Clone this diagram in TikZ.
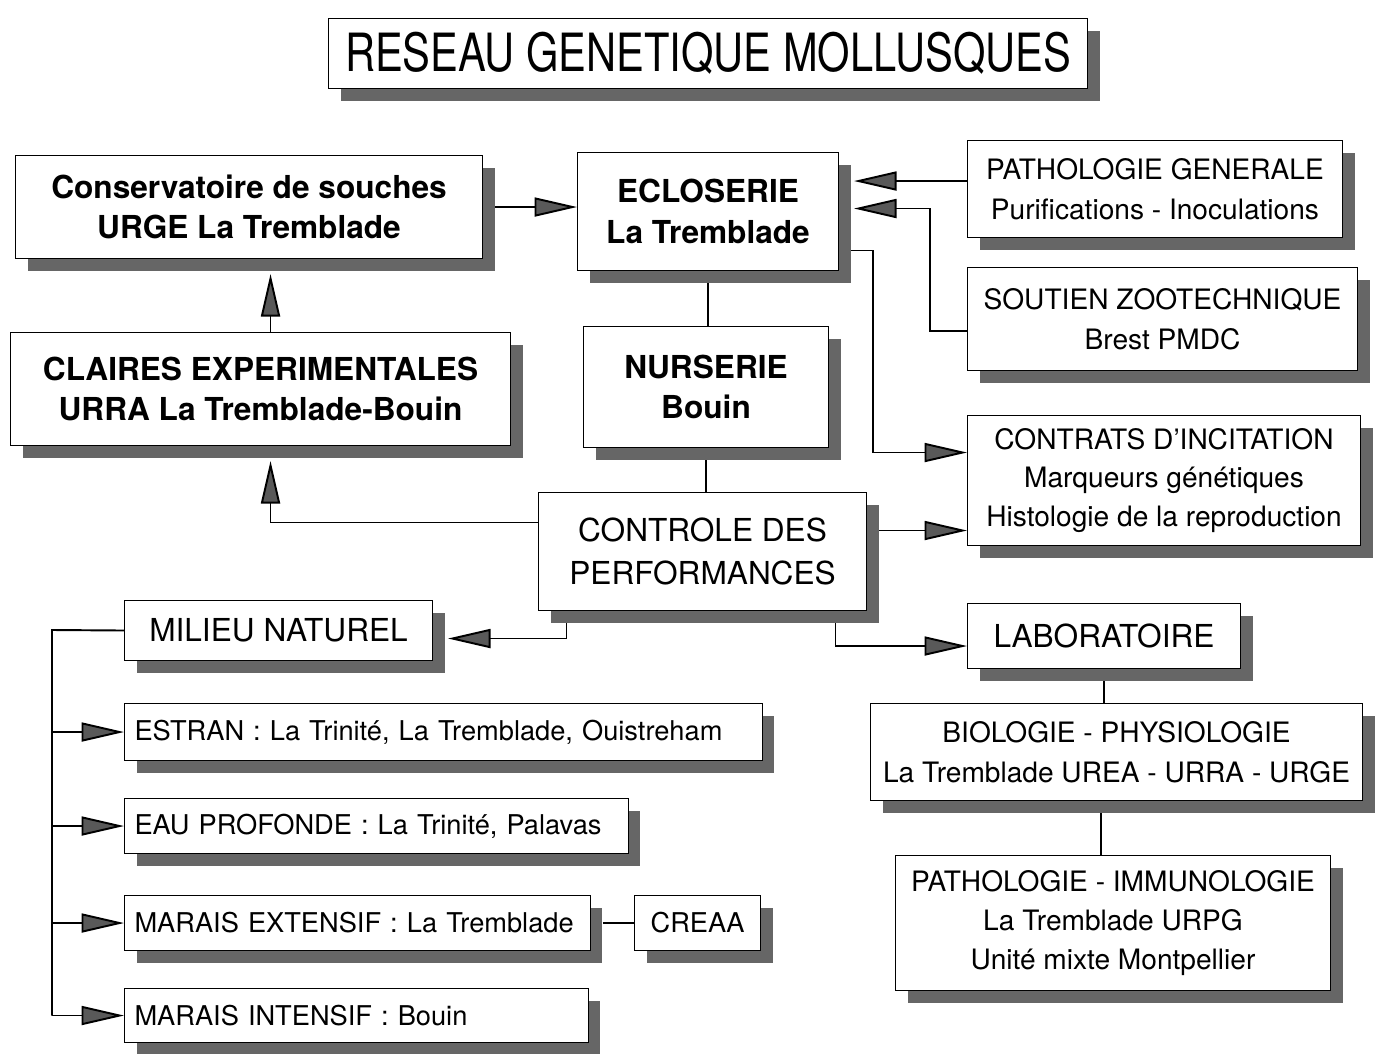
\documentclass[tikz,border=0pt]{standalone}
\usepackage{fontspec}
\setmainfont{TeX Gyre Heros}
\usepackage{graphicx}
\usetikzlibrary{arrows.meta,shadows}

\newlength{\bpx}
\setlength{\bpx}{0.02cm}

\tikzset{
  box/.style={draw, line width=0.6pt, fill=white, anchor=north west, align=center, inner sep=2pt,
    drop shadow={shadow xshift=0.24cm, shadow yshift=-0.24cm, fill=black!60, opacity=1}},
  boldtxt/.style={font=\fontsize{18}{23}\selectfont\bfseries},
  plaintxt/.style={font=\fontsize{16}{23}\selectfont},
  bigtxt/.style={font=\fontsize{18}{24}\selectfont},
  lbox/.style={box, align=left, inner xsep=0.2cm, text width=#1, font=\fontsize{15.5}{20}\selectfont},
  link/.style={line width=1.1pt},
  arr/.style={link, -{Triangle[length=0.85cm, width=0.38cm, fill=black!65]}},
  toshadow/.style={shorten >=0.3cm},
  fromshadow/.style={shorten <=0.24cm},
}

\begin{document}
\begin{tikzpicture}[x=1\bpx, y=-1\bpx]
  \useasboundingbox (0,0) rectangle (1384,1054);

  % title
  \node[box, minimum width=759\bpx, minimum height=70\bpx] (title) at (328,18)
    {\fontsize{30}{30}\selectfont\scalebox{0.79}[1]{RESEAU GENETIQUE MOLLUSQUES}};

  % upper part
  \node[box, boldtxt, minimum width=467\bpx, minimum height=103\bpx] (cons) at (15,155)
    {Conservatoire de souches\\URGE La Tremblade};
  \node[box, boldtxt, minimum width=261\bpx, minimum height=118\bpx] (eclos) at (577,152)
    {ECLOSERIE\\La Tremblade};
  \node[box, plaintxt, minimum width=375\bpx, minimum height=97\bpx] (pathg) at (967,140)
    {PATHOLOGIE GENERALE\\Purifications - Inoculations};
  \node[box, plaintxt, minimum width=390\bpx, minimum height=103\bpx] (sout) at (967,267)
    {SOUTIEN ZOOTECHNIQUE\\Brest PMDC};
  \node[box, boldtxt, minimum width=500\bpx, minimum height=113\bpx] (claires) at (10,332)
    {CLAIRES EXPERIMENTALES\\URRA La Tremblade-Bouin};
  \node[box, boldtxt, minimum width=245\bpx, minimum height=121\bpx] (nurs) at (583,326)
    {NURSERIE\\Bouin};
  \node[box, font=\fontsize{16}{22}\selectfont, minimum width=393\bpx, minimum height=130\bpx] (contr) at (967,415)
    {CONTRATS D'INCITATION\\Marqueurs génétiques\\Histologie de la reproduction};
  \node[box, bigtxt, minimum width=328\bpx, minimum height=118\bpx] (ctrl) at (538,492)
    {CONTROLE DES\\PERFORMANCES};

  % milieu naturel
  \node[box, bigtxt, minimum width=308\bpx, minimum height=60\bpx] (milieu) at (124,600) {MILIEU NATUREL};
  \node[lbox=12.36cm, minimum height=57\bpx] (estr) at (124,703)
    {ESTRAN : La Trinité, La Tremblade, Ouistreham};
  \node[lbox=9.68cm, minimum height=55\bpx] (eau) at (124,798)
    {EAU PROFONDE : La Trinité, Palavas};
  \node[lbox=8.92cm, minimum height=55\bpx] (mext) at (124,895)
    {MARAIS EXTENSIF : La Tremblade};
  \node[box, font=\fontsize{15.5}{20}\selectfont, minimum width=126\bpx, minimum height=55\bpx] (creaa) at (634,895) {CREAA};
  \node[lbox=8.88cm, minimum height=54\bpx] (mint) at (124,988)
    {MARAIS INTENSIF : Bouin};

  % laboratoire
  \node[box, bigtxt, minimum width=273\bpx, minimum height=65\bpx] (lab) at (967,603) {LABORATOIRE};
  \node[box, plaintxt, minimum width=492\bpx, minimum height=97\bpx] (bio) at (870,703)
    {BIOLOGIE - PHYSIOLOGIE\\La Tremblade UREA - URRA - URGE};
  \node[box, font=\fontsize{16}{22}\selectfont, minimum width=435\bpx, minimum height=135\bpx] (pimm) at (895,855)
    {PATHOLOGIE - IMMUNOLOGIE\\La Tremblade URPG\\Unité mixte Montpellier};

  % connectors
  \draw[arr, fromshadow] (cons.east) -- (cons.east -| eclos.west);
  \draw[arr, toshadow] ([xshift=10\bpx]claires.north) -- ([xshift=10\bpx]claires.north |- cons.south);
  \draw[link, fromshadow] (eclos.south) -- (eclos.south |- nurs.north);
  \draw[link, fromshadow] (nurs.south) -- (nurs.south |- ctrl.north);
  \draw[arr, toshadow] ([yshift=8\bpx]pathg.west) -- ([yshift=8\bpx]pathg.west -| eclos.east);
  \draw[arr, toshadow] ([yshift=-12\bpx]sout.west) -- ++(-37,0) |- ([yshift=3\bpx]eclos.east);
  \draw[arr, fromshadow] ([yshift=-39\bpx]eclos.east) -- ++(34,0) |- ([yshift=28\bpx]contr.west);
  \draw[arr, toshadow] ([yshift=29\bpx]ctrl.west) -| ([xshift=10\bpx]claires.south);
  \draw[arr, fromshadow] ([yshift=21\bpx]ctrl.east) -- ([yshift=21\bpx]ctrl.east -| contr.west);
  \draw[arr, fromshadow, toshadow] ([xshift=-136\bpx]ctrl.south) |- ([yshift=-8\bpx]milieu.east);
  \draw[arr, fromshadow] ([xshift=133\bpx]ctrl.south) |- ([yshift=-10\bpx]lab.west);
  \draw[link, fromshadow] (lab.south) -- (lab.south |- bio.north);
  \draw[link, fromshadow] ([xshift=-12\bpx]pimm.north |- bio.south) -- ([xshift=-12\bpx]pimm.north);
  \draw[link, fromshadow] (mext.east) -- (creaa.west);

  \coordinate (trunk) at (52,630);
  \draw[link] (milieu.west) -- (trunk) -- (trunk |- mint.west);
  \foreach \b in {estr,eau,mext,mint}
    \draw[arr] (trunk |- \b.west) -- (\b.west);

\end{tikzpicture}
\end{document}
